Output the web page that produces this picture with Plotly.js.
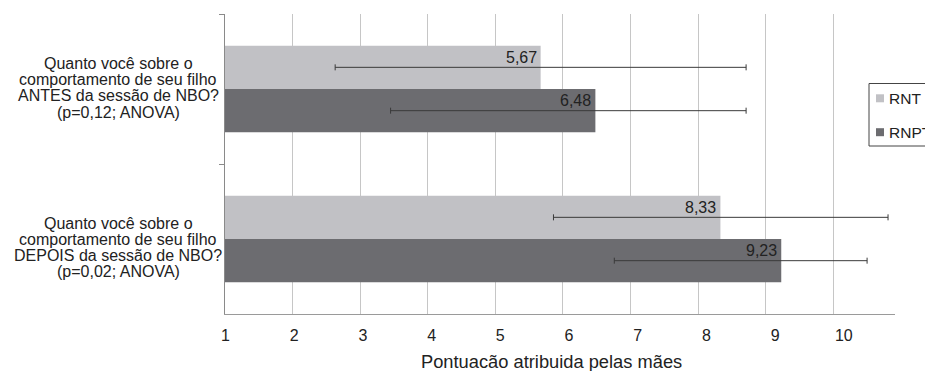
<!DOCTYPE html>
<html>
<head>
<meta charset="utf-8">
<script src="https://cdn.plot.ly/plotly-3.0.1.min.js"></script>
<style>
html, body { margin: 0; padding: 0; background: #ffffff; }
#chart { width: 925px; height: 371px; }
</style>
</head>
<body>
<div id="chart"></div>
<script>
// ---------- DATA ----------
const categories = [
  "Quanto você sobre o<br>comportamento de seu filho<br>ANTES da sessão de NBO?<br>(p=0,12; ANOVA)",
  "Quanto você sobre o<br>comportamento de seu filho<br>DEPOIS da sessão de NBO?<br>(p=0,02; ANOVA)"
];
const seriesNames = ["RNT", "RNPT"];
const rntValues = [5.67, 8.33];
const rnptValues = [6.48, 9.23];
const rntErrorPlus = [3.04, 2.48];
const rntErrorMinus = [3.04, 2.47];
const rnptErrorPlus = [2.23, 1.27];
const rnptErrorMinus = [3.03, 2.47];
const xTickValues = [1, 2, 3, 4, 5, 6, 7, 8, 9, 10];
const xTickLabels = ["1", "2", "3", "4", "5", "6", "7", "8", "9", "10"];
const xAxisTitle = "Pontuacão atribuida pelas mães";

// ---------- STYLE / GEOMETRY ----------
const FONT = "Liberation Sans, Arial, Helvetica, sans-serif";
const TEXT_COLOR = "#222222";
const colors = ["#c1c1c5", "#6c6c70"];
const W = 925, H = 371;
const M = { l: 225, r: 30, t: 14, b: 57 };
const plotW = W - M.l - M.r;   // 670
const plotH = H - M.t - M.b;   // 300
const px2paperX = px => (px - M.l) / plotW;
const px2paperY = py => (M.t + plotH - py) / plotH;

const seriesValues = [rntValues, rnptValues];
const seriesErrPlus = [rntErrorPlus, rnptErrorPlus];
const seriesErrMinus = [rntErrorMinus, rnptErrorMinus];

const traces = seriesNames.map((name, i) => ({
  type: "bar",
  orientation: "h",
  name: name,
  y: categories,
  x: seriesValues[i],
  marker: { color: colors[i], line: { width: 0 } },
  error_x: {
    type: "data",
    symmetric: false,
    array: seriesErrPlus[i],
    arrayminus: seriesErrMinus[i],
    color: "#3a3a3a",
    thickness: 1,
    width: 3
  },
  showlegend: false,
  hoverinfo: "x+name"
}));
// empty helper trace so the tick-label axis (x2) is created; draws nothing
traces.push({ type: "scatter", mode: "markers", x: [], y: [], xaxis: "x2", yaxis: "y", showlegend: false, hoverinfo: "skip" });

const fmt = v => v.toFixed(2).replace(".", ",");
const annotations = [];

// value labels near top-right of each bar
const labelYShift = [31.5, -11];
seriesNames.forEach((name, i) => {
  seriesValues[i].forEach((v, j) => {
    annotations.push({
      xref: "x", yref: "y", x: v, y: categories[j],
      text: fmt(v), showarrow: false,
      xanchor: "right", yanchor: "middle",
      xshift: -3, yshift: labelYShift[i], borderpad: 0,
      font: { family: FONT, size: 16, color: TEXT_COLOR }
    });
  });
});

// category labels (one annotation per line for tight line spacing)
const catBlockShift = [1.2, -8.4];
const lineSpacing = 16.2;
categories.forEach((cat, j) => {
  const lines = cat.split("<br>");
  const n = lines.length;
  lines.forEach((ln, k) => {
    annotations.push({
      xref: "paper", yref: "y", x: 0, y: cat,
      xshift: -107, yshift: catBlockShift[j] + ((n - 1) / 2 - k) * lineSpacing,
      text: ln, showarrow: false, xanchor: "center", yanchor: "middle", borderpad: 0,
      font: { family: FONT, size: 16, color: TEXT_COLOR }
    });
  });
});

// x-axis title
annotations.push({
  xref: "paper", yref: "paper", x: px2paperX(551), y: 0,
  yshift: -36, text: xAxisTitle, showarrow: false,
  xanchor: "center", yanchor: "top", borderpad: 0,
  font: { family: FONT, size: 18.3, color: TEXT_COLOR }
});

// legend (drawn manually so the symbol/text gap matches)
const legendItemsY = [98.3, 132.2];
seriesNames.forEach((name, i) => {
  annotations.push({
    xref: "paper", yref: "paper", x: px2paperX(888), y: px2paperY(legendItemsY[i]),
    text: name, showarrow: false, xanchor: "left", yanchor: "middle", borderpad: 0,
    font: { family: FONT, size: 15.5, color: TEXT_COLOR }
  });
});

const shapes = [
  {
    type: "rect", xref: "paper", yref: "paper",
    x0: px2paperX(869), x1: px2paperX(960),
    y0: px2paperY(146), y1: px2paperY(83.5),
    line: { color: "#444444", width: 1 }, fillcolor: "rgba(0,0,0,0)"
  }
];
seriesNames.forEach((name, i) => {
  shapes.push({
    type: "rect", xref: "paper", yref: "paper",
    x0: px2paperX(876), x1: px2paperX(884),
    y0: px2paperY(legendItemsY[i] + 4), y1: px2paperY(legendItemsY[i] - 4),
    line: { width: 0 }, fillcolor: colors[i]
  });
});

const layout = {
  width: W, height: H,
  margin: M,
  paper_bgcolor: "#ffffff",
  plot_bgcolor: "#ffffff",
  barmode: "group",
  bargap: 0.422,
  bargroupgap: 0,
  showlegend: false,
  font: { family: FONT, size: 16, color: TEXT_COLOR },
  xaxis: {
    range: [1, 10.913],
    tickvals: xTickValues,
    showticklabels: false,
    ticks: "",
    showgrid: true, gridcolor: "#c6c6c6", gridwidth: 1,
    showline: true, linecolor: "#9a9a9a", linewidth: 1,
    zeroline: false, fixedrange: true
  },
  xaxis2: {
    overlaying: "x", anchor: "y", side: "bottom",
    range: [0.9927, 10.745],
    tickvals: xTickValues, ticktext: xTickLabels,
    ticks: "", ticklabelstandoff: 10,
    showgrid: false, showline: false, zeroline: false,
    tickfont: { family: FONT, size: 16, color: TEXT_COLOR },
    fixedrange: true
  },
  yaxis: {
    type: "category",
    range: [1.5, -0.5],
    showticklabels: false,
    ticks: "outside", ticklen: 5, tickcolor: "#8a8a8a", tickwidth: 1,
    tickson: "boundaries",
    showgrid: false, zeroline: false,
    showline: true, linecolor: "#8a8a8a", linewidth: 1,
    fixedrange: true
  },
  annotations: annotations,
  shapes: shapes
};

Plotly.newPlot("chart", traces, layout, { displayModeBar: false, staticPlot: true });
</script>
</body>
</html>
